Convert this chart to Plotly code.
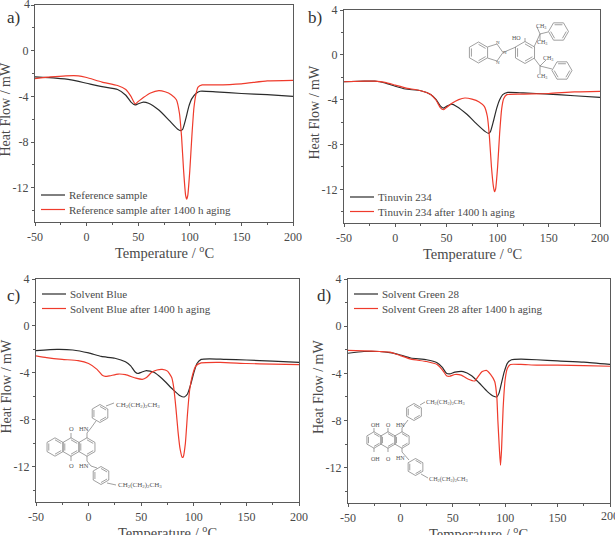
import math

import plotly.graph_objects as go

W, H = 615, 535
SERIF = "Liberation Serif"
GREY = "#5a5a5a"
TEXT = "#4a4a4a"
BLACK_LINE = "#2b2b2b"
RED_LINE = "#ef3b2c"

# Curves: temperature (x) and heat flow (y)
a_ref_x = [-50, -30, -15, 0, 15, 30, 38, 43, 47, 50, 55, 60, 70, 80, 88, 91, 93, 96, 99, 102, 106, 110, 125, 150, 175, 200]
a_ref_y = [-2.3, -2.4, -2.55, -2.85, -3.15, -3.4, -3.9, -4.5, -4.75, -4.65, -4.5, -4.6, -5.2, -6.1, -6.85, -7.0, -6.9, -6.0, -4.9, -4.2, -3.75, -3.55, -3.6, -3.75, -3.85, -4.0]
a_aged_x = [-50, -35, -20, -8, 0, 15, 30, 38, 43, 47, 50, 55, 62, 70, 76, 82, 87, 90, 92, 94, 96, 97, 98, 100, 102, 104, 106, 108, 112, 125, 150, 175, 200]
a_aged_y = [-2.45, -2.3, -2.2, -2.2, -2.35, -2.75, -3.05, -3.4, -4.0, -4.65, -4.45, -4.1, -3.7, -3.5, -3.6, -3.85, -4.3, -5.5, -7.5, -10.5, -12.7, -13.0, -12.7, -10.5, -7.5, -5.0, -3.8, -3.2, -3.0, -3.0, -2.9, -2.65, -2.6]

b_ref_x = [-50, -30, -20, -10, 0, 10, 25, 35, 40, 44, 47, 50, 55, 60, 70, 80, 88, 91, 93, 96, 99, 102, 105, 110, 125, 150, 175, 200]
b_ref_y = [-2.4, -2.35, -2.35, -2.5, -2.8, -3.05, -3.2, -3.55, -4.0, -4.55, -4.75, -4.6, -4.4, -4.6, -5.3, -6.2, -6.85, -7.0, -6.85, -5.9, -4.8, -4.0, -3.55, -3.35, -3.4, -3.5, -3.65, -3.8]
b_aged_x = [-50, -30, -20, -10, 0, 10, 25, 35, 40, 44, 47, 50, 55, 62, 68, 75, 82, 87, 90, 92, 94, 96, 97, 98, 100, 102, 104, 106, 109, 125, 150, 175, 200]
b_aged_y = [-2.4, -2.35, -2.35, -2.45, -2.7, -2.95, -3.2, -3.55, -4.05, -4.7, -4.9, -4.7, -4.35, -4.0, -3.85, -3.95, -4.2, -4.6, -5.5, -7.3, -10.0, -11.8, -12.2, -12.0, -10.0, -7.0, -4.8, -3.9, -3.55, -3.5, -3.45, -3.3, -3.25]

c_ref_x = [-50, -30, -15, 0, 12, 25, 35, 40, 44, 47, 50, 55, 62, 70, 80, 87, 91, 94, 97, 100, 103, 107, 115, 130, 150, 175, 200]
c_ref_y = [-2.1, -2.0, -2.05, -2.3, -2.6, -2.75, -3.05, -3.4, -3.9, -4.05, -3.95, -3.8, -3.95, -4.5, -5.4, -5.95, -6.05, -5.8, -5.0, -4.0, -3.2, -2.85, -2.8, -2.85, -2.9, -3.0, -3.1]
c_aged_x = [-50, -40, -25, -10, 0, 8, 13, 16, 20, 28, 35, 45, 51, 55, 60, 65, 70, 75, 79, 81, 83, 85, 87, 89, 90, 92, 94, 96, 99, 102, 107, 125, 150, 175, 200]
c_aged_y = [-2.55, -2.7, -2.85, -2.95, -3.2, -3.7, -4.2, -4.3, -4.25, -4.1, -4.15, -4.45, -4.55, -4.4, -3.95, -3.75, -3.7, -3.85, -4.4, -5.3, -7.0, -9.0, -10.5, -11.2, -11.15, -10.0, -7.5, -5.5, -4.1, -3.4, -3.15, -3.1, -3.2, -3.25, -3.3]

d_ref_x = [-50, -35, -20, -10, 0, 10, 25, 35, 40, 44, 47, 52, 60, 68, 75, 83, 89, 92, 94, 96, 99, 102, 106, 115, 130, 150, 175, 200]
d_ref_y = [-2.3, -2.15, -2.15, -2.25, -2.45, -2.7, -2.85, -3.1, -3.5, -4.0, -4.05, -3.9, -3.85, -4.2, -4.8, -5.55, -5.95, -6.0, -5.7, -5.0, -3.9, -3.15, -2.85, -2.8, -2.85, -2.95, -3.05, -3.25]
d_aged_x = [-50, -35, -20, -10, 0, 10, 25, 35, 40, 44, 47, 52, 58, 65, 71, 74, 78, 82, 86, 90, 92, 93, 94.5, 95.5, 96.5, 98, 100, 102, 105, 115, 130, 150, 175, 200]
d_aged_y = [-2.05, -2.1, -2.15, -2.2, -2.5, -2.8, -3.0, -3.25, -3.7, -4.2, -4.25, -4.1, -4.15, -4.5, -4.65, -4.3, -3.85, -3.75, -4.1, -4.7, -6.0, -8.0, -10.5, -11.8, -10.5, -7.0, -4.5, -3.6, -3.25, -3.25, -3.3, -3.3, -3.35, -3.4]

x_ticks = [-50, 0, 50, 100, 150, 200]
x_labels = ["-50", "0", "50", "100", "150", "200"]
y_ticks = [4, 0, -4, -8, -12]
y_labels = ["4", "0", "-4", "-8", "-12"]

# name, panel letter, ref curve, aged curve, plot box (left, right, top, bottom),
# legend first row y, panel letter position
panels = [
    ("Reference sample", "a", (a_ref_x, a_ref_y), (a_aged_x, a_aged_y), (35, 293, 5, 222), 195, (5, 18)),
    ("Tinuvin 234", "b", (b_ref_x, b_ref_y), (b_aged_x, b_aged_y), (344, 600, 10, 223), 197, (306, 17)),
    ("Solvent Blue", "c", (c_ref_x, c_ref_y), (c_aged_x, c_aged_y), (36, 299, 279, 502), 294, (5, 295)),
    ("Solvent Green 28", "d", (d_ref_x, d_ref_y), (d_aged_x, d_aged_y), (348, 610, 279, 503), 294, (315, 295)),
]


def px(x, y):
    return x / W, 1 - y / H


def path_from(points, close=False):
    pts = [px(*p) for p in points]
    d = "M" + " L".join(f"{x:.5f},{y:.5f}" for x, y in pts)
    return d + (" Z" if close else "")


def bond(points, close=False):
    return dict(type="path", xref="paper", yref="paper", path=path_from(points, close),
                line=dict(color="#777777", width=0.7))


def hexagon(cx, cy, r, rot=30):
    pts = [(cx + r * math.cos(math.radians(rot + 60 * k)),
            cy + r * math.sin(math.radians(rot + 60 * k))) for k in range(6)]
    shapes = [bond(pts, close=True)]
    # inner double bonds on every other edge
    for k in (0, 2, 4):
        p, q = pts[k], pts[(k + 1) % 6]
        inner = [(cx + (u - cx) * 0.78, cy + (v - cy) * 0.78) for u, v in (p, q)]
        shapes.append(bond(inner))
    return shapes


def label(x, y, text, size=6, anchor="center", color="#555", family=SERIF):
    xp, yp = px(x, y)
    return dict(text=text, x=xp, y=yp, xref="paper", yref="paper", showarrow=False,
                xanchor=anchor, yanchor="middle", font=dict(family=family, size=size, color=color))


CHAIN = "CH<sub>2</sub>(CH<sub>2</sub>)<sub>2</sub>CH<sub>3</sub>"

shapes = []
annotations = []

# Tinuvin 234
shapes += hexagon(478.5, 52.5, 10.5)
shapes += hexagon(525, 52.5, 11)
shapes += hexagon(558.5, 31.5, 10, rot=0)
shapes += hexagon(562, 70.5, 10, rot=0)
shapes.append(bond([(487.5, 47), (497, 44), (503, 52.5), (497, 61), (487.5, 58)]))
shapes.append(bond([(503, 52.5), (516, 47)]))
shapes.append(bond([(525, 41.5), (525, 38)]))
shapes.append(bond([(534, 47), (540, 34), (548, 32)]))
shapes.append(bond([(540, 34), (537, 27)]))
shapes.append(bond([(540, 34), (540, 41)]))
shapes.append(bond([(534, 58), (540, 66), (552, 69)]))
shapes.append(bond([(540, 66), (546, 60)]))
shapes.append(bond([(540, 66), (540, 74)]))
annotations += [
    label(516, 38, "HO"), label(541, 26, "CH<sub>3</sub>"), label(542, 43, "CH<sub>3</sub>"),
    label(548, 59, "CH<sub>3</sub>"), label(542, 76, "CH<sub>3</sub>"),
    label(498, 43, "N", 5), label(505, 52.5, "N", 5), label(498, 62, "N", 5),
]

# Solvent Blue
for cx in (55, 71, 87):
    shapes += hexagon(cx, 447, 9.2)
shapes += hexagon(100, 413.5, 9)
shapes += hexagon(101, 475.5, 9)
shapes.append(bond([(87, 438), (87, 433), (91, 428), (96, 421)]))
shapes.append(bond([(87, 456), (87, 461), (91, 466), (97, 468)]))
shapes.append(bond([(71, 438), (71, 433)]))
shapes.append(bond([(71, 456), (71, 461)]))
shapes.append(bond([(106, 406), (114, 403)]))
shapes.append(bond([(107, 483), (116, 485)]))
annotations += [
    label(114, 405, CHAIN, 7, "left"), label(116, 485, CHAIN, 7, "left"),
    label(71, 428, "O", 6.5), label(71, 465, "O", 6.5),
    label(84, 428, "HN", 6.5), label(84, 465, "HN", 6.5),
]

# Solvent Green 28
for cx in (374, 388, 402):
    shapes += hexagon(cx, 440, 8.2)
shapes += hexagon(414, 412, 8.5)
shapes += hexagon(415.5, 467, 8.5)
shapes.append(bond([(402, 432), (402, 428), (408, 420)]))
shapes.append(bond([(402, 448), (402, 452), (409, 460)]))
shapes.append(bond([(388, 432), (388, 428)]))
shapes.append(bond([(388, 448), (388, 452)]))
shapes.append(bond([(374, 432), (374, 428)]))
shapes.append(bond([(374, 448), (374, 452)]))
shapes.append(bond([(420, 405), (425, 402)]))
shapes.append(bond([(421, 474), (428, 478)]))
annotations += [
    label(424, 402, CHAIN, 6.2, "left"), label(427, 479, CHAIN, 6.2, "left"),
    label(376, 425, "OH", 6), label(376, 459, "OH", 6),
    label(388, 425, "O", 6), label(388, 459, "O", 6),
    label(400, 425, "HN", 6), label(400, 458, "HN", 6),
]

fig = go.Figure()
layout = {}

for i, (name, letter, ref, aged, box, legend_y, letter_pos) in enumerate(panels):
    left, right, top, bottom = box
    suffix = "" if i == 0 else str(i + 1)
    xref, yref = f"x{suffix}", f"y{suffix}"

    for row, ((xs, ys), label_text, color) in enumerate((
        (ref, name, BLACK_LINE),
        (aged, f"{name} after 1400 h aging", RED_LINE),
    )):
        fig.add_trace(go.Scatter(
            x=xs, y=ys, mode="lines", name=label_text, showlegend=False,
            line=dict(color=color, width=1.2, shape="spline", smoothing=0.5),
            xaxis=xref, yaxis=yref,
        ))
        # legend drawn by hand: plotly's own rows can't go under 19px
        row_y = legend_y + row * 14.5
        shapes.append(bond([(left + 6, row_y), (left + 30, row_y)]) | dict(line=dict(color=color, width=1.2)))
        annotations.append(label(left + 31.5, row_y, label_text, 11, "left", TEXT))

    # plotly drops tick labels that poke out of the page, the reference just crops them
    x_text = list(x_labels)
    y_text = list(y_labels)
    if letter == "d":
        x_text[-1] = ""
        annotations.append(label(right, bottom + 13, x_labels[-1], 12, "center", TEXT))
    if letter == "a":
        y_text[0] = ""
        annotations.append(label(left - 3, top - 1, y_labels[0], 12, "right", TEXT))

    axis_common = dict(
        ticks="outside", ticklen=3, tickcolor=GREY, tickwidth=1,
        showgrid=False, zeroline=False, showline=True, mirror=True, linecolor=GREY, linewidth=1.2,
        tickfont=dict(family=SERIF, size=12, color=TEXT), automargin=False,
    )
    layout[f"xaxis{suffix}"] = dict(
        domain=[left / W, right / W], range=[-50, 200], anchor=yref,
        tickvals=x_ticks, ticktext=x_text,
        minor=dict(dtick=25, ticks="outside", ticklen=2, tickcolor=GREY),
        **axis_common,
    )
    layout[f"yaxis{suffix}"] = dict(
        domain=[1 - bottom / H, 1 - top / H], range=[-15, 4], anchor=xref,
        tickvals=y_ticks, ticktext=y_text,
        minor=dict(dtick=2, ticks="outside", ticklen=2, tickcolor=GREY),
        **axis_common,
    )

    annotations.append(label((left + right) / 2, bottom + 29.5, "Temperature / <sup>o</sup>C", 14.5, "center", TEXT))
    ytitle = label(left - 30, (top + bottom) / 2 - 4, "Heat Flow / mW", 14, "center", TEXT)
    ytitle["textangle"] = -90
    annotations.append(ytitle)
    annotations.append(label(letter_pos[0], letter_pos[1], f"{letter})", 17, "left", "#333333"))

fig.update_layout(
    width=W, height=H, margin=dict(l=0, r=0, t=0, b=0),
    paper_bgcolor="white", plot_bgcolor="white",
    showlegend=False, shapes=shapes, annotations=annotations,
    **layout,
)

fig.write_html("out.html", config=dict(displayModeBar=False),
               post_script="document.body.style.margin='0';")
